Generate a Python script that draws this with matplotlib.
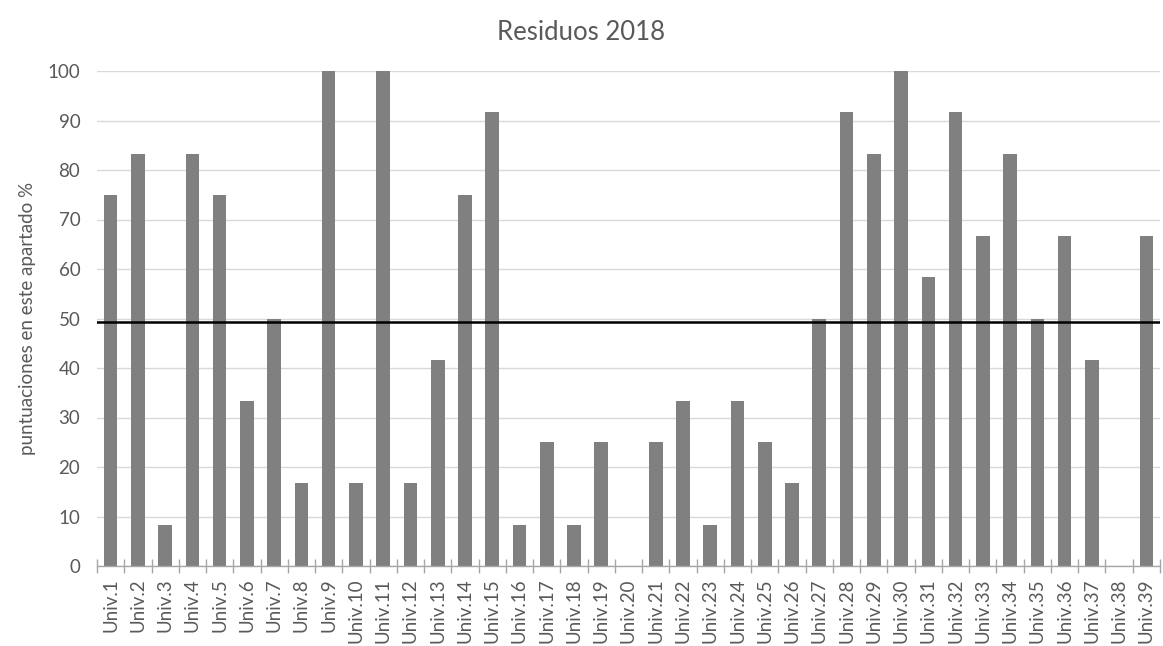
import matplotlib
matplotlib.use("Agg")
import matplotlib.pyplot as plt
import numpy as np

plt.rcParams['font.family'] = ['Lato', 'DejaVu Sans']

categories = [f"Univ.{i}" for i in range(1, 40)]
values = [75, 83.33, 8.33, 83.33, 75, 33.33, 50, 16.67, 100, 16.67,
          100, 16.67, 41.67, 75, 91.67, 8.33, 25, 8.33, 25, 0,
          25, 33.33, 8.33, 33.33, 25, 16.67, 50, 91.67, 83.33, 100,
          58.33, 91.67, 66.67, 83.33, 50, 66.67, 41.67, 0, 66.67]
mean_value = float(np.mean(values))
yticks = list(range(0, 101, 10))

fig = plt.figure(figsize=(11.63, 6.46), dpi=100)
ax = fig.add_axes([97/1163, 1 - 566/646, (1160-97)/1163, (566-71)/646])

x = np.arange(len(categories))
ax.bar(x, values, width=0.5, color='#808080', zorder=2)
ax.axhline(mean_value, color='black', lw=1.8, zorder=3)

ax.set_xlim(-0.5, len(categories) - 0.5)
ax.set_ylim(0, 100)
ax.set_yticks(yticks)
ax.set_yticklabels([str(t) for t in yticks], fontsize=13.5, color='#595959')
ax.yaxis.grid(True, color='#d9d9d9', lw=1, zorder=0)
ax.set_axisbelow(True)

ax.set_xticks(x)
ax.set_xticklabels(categories, rotation=90, fontsize=13.5, color='#595959')
ax.tick_params(axis='x', length=0, pad=9)
ax.set_xticks(np.arange(-0.5, len(categories), 1), minor=True)
ax.tick_params(axis='x', which='minor', direction='inout', length=10, color='#a6a6a6', width=1)
ax.tick_params(axis='y', length=0, pad=12)

for s in ['top', 'right', 'left']:
    ax.spines[s].set_visible(False)
ax.spines['bottom'].set_color('#a6a6a6')
ax.spines['bottom'].set_linewidth(1)

ax.set_ylabel("puntuaciones en este apartado %", fontsize=13.5, color='#595959', labelpad=8)
fig.text(0.5, 1 - 33/646, "Residuos 2018", ha='center', va='center', fontsize=18.5, color='#595959')

fig.savefig("out.png", dpi=100)
